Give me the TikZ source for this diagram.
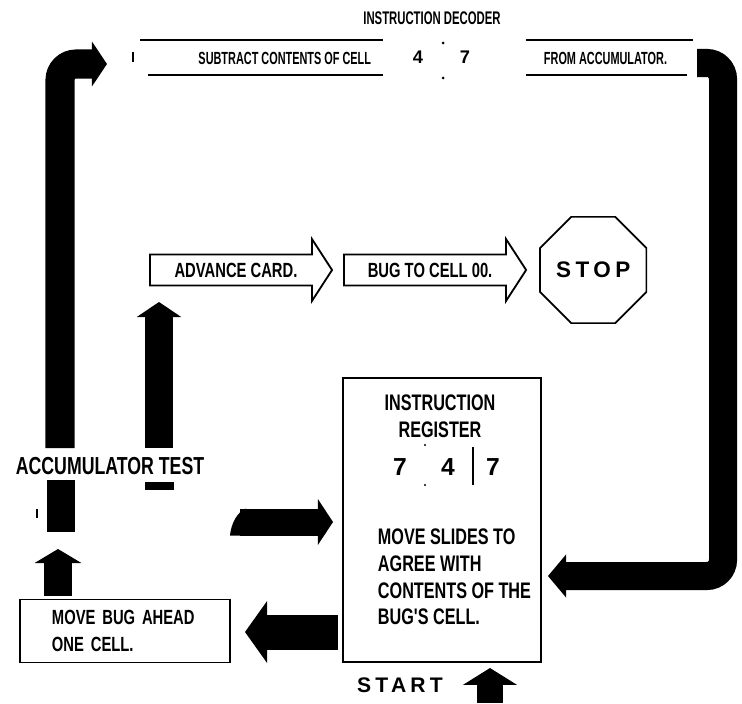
\documentclass[tikz,border=0pt]{standalone}
\usepackage{fontspec}
\setmainfont{Liberation Sans}
\newfontfamily\condfont[FakeStretch=0.72]{Liberation Sans}
\newfontfamily\narrowfont[FakeStretch=0.62]{Liberation Sans}
\newfontfamily\spacedfont[LetterSpace=20]{Liberation Sans}
\usetikzlibrary{shapes.geometric,shapes.arrows,arrows.meta,positioning,calc}

\tikzset{
  fat/.style={line width=#1, draw=black},
  fathead/.style n args={2}{-{Triangle[width=0pt #1,length=0pt #2,line width=0pt]}},
  slide/.style={line width=0.9pt},
  decodertitle/.style={font=\fontsize{13}{13}\narrowfont\bfseries},
  strip/.style={font=\fontsize{12.5}{12.5}\narrowfont\bfseries},
  digit/.style={font=\fontsize{13}{13}\bfseries},
  cardarrow/.style={single arrow, draw, line width=1.3pt, minimum height=4.55cm,
    minimum width=1.55cm, single arrow head extend=0.275cm, single arrow tip angle=114,
    inner sep=2pt, font=\fontsize{14.6}{14.6}\condfont\bfseries},
  stopsign/.style={regular polygon, regular polygon sides=8, draw, line width=1.2pt,
    minimum size=2.875cm, inner sep=0pt, font=\fontsize{16}{16}\spacedfont\bfseries},
  regbox/.style={draw, line width=1.4pt, minimum width=4.95cm, minimum height=7.1cm},
  regtext/.style={font=\fontsize{16}{19}\condfont\bfseries},
  regdigit/.style={font=\fontsize{17.5}{17.5}\bfseries},
  bugbox/.style={draw, line width=1.3pt, minimum width=5.25cm, minimum height=1.575cm,
    text width=3.65cm, inner xsep=0.8cm, align=left,
    font=\fontsize{14.6}{19.2}\condfont\bfseries},
  acclabel/.style={font=\fontsize{17.5}{17.5}\condfont\bfseries},
  spaced/.style={font=\fontsize{15}{15}\spacedfont\bfseries}
}

\begin{document}
\begin{tikzpicture}[x=0.025cm,y=-0.025cm]
    \useasboundingbox (0,0) rectangle (742,703);

    % Instruction decoder strip
    \node[decodertitle] (decoder) at (432,18) {INSTRUCTION DECODER};
    \draw[slide] (140,40) -- (383,40) (148,75) -- (383,75);
    \draw[slide] (526,40) -- (693,40) (526,75) -- (687,75);
    \draw[slide] (133,52) -- (133,62);
    \fill (443,43) circle (1.5) (443,78) circle (1.5);
    \node[strip, anchor=east] (subtract) at (376,58) {SUBTRACT CONTENTS OF CELL};
    \node[digit] (celltens) at (418,57) {4};
    \node[digit] (cellones) at (465,57) {7};
    \node[strip, anchor=west] (fromacc) at (539,58) {FROM ACCUMULATOR.};

    % Advance card / stop
    \node[cardarrow] (advance) at (236,270) {ADVANCE CARD.};
    \node[cardarrow, right=0.25cm of advance] (bugzero) {BUG TO CELL 00.};
    \node[stopsign, right=0.3cm of bugzero] (stop) {STOP};

    % Instruction register
    \node[regbox] (register) at (442,520) {};
    \node[regtext, align=center] (regname) at (440,416) {INSTRUCTION\\REGISTER};
    \node[regdigit] (regop) at (400,467) {7};
    \node[regdigit] (regtens) at (448,467) {4};
    \node[regdigit] (regones) at (493,467) {7};
    \draw[line width=1.6pt] (473,447) -- (473,485);
    \fill (425,445) circle (1.2) (425,485) circle (1.2);
    \node[regtext, align=left, anchor=west] (regmove) at (373,577)
        {MOVE SLIDES TO\\AGREE WITH\\CONTENTS OF THE\\BUG'S CELL.};
    \node[spaced] (start) at (400,685) {START};

    % Move bug / accumulator test
    \node[bugbox] (movebug) at (125,631) {MOVE BUG AHEAD\\ONE CELL.};
    \node[acclabel] (acctest) at (110,466) {ACCUMULATOR TEST};

    % Fat arrows
    \coordinate (accup) at (60,448);
    \coordinate (decin) at (107,64);
    \draw[fat=0.725cm, rounded corners=0.4cm, fathead={1.55}{0.52}] (accup) -- (60,64) -- (decin);

    \coordinate (decout) at (697,63);
    \coordinate (regin) at (548,576);
    \draw[fat=0.7cm, rounded corners=0.4cm, fathead={1.55}{0.65}] (decout) -- (723,63) -- (723,576) -- (regin);

    \coordinate (testup) at (159,448);
    \coordinate (advin) at (159,302);
    \draw[fat=0.7cm, fathead={1.6}{0.54}] (testup) -- (advin);
    \fill (145,482) rectangle (174,490);
    \fill (47,480) rectangle (75,532);
    \draw[line width=1pt] (37,509) -- (37,518);

    \coordinate (bugout) at (58,596);
    \coordinate (accin) at (58,549);
    \draw[fat=0.675cm, fathead={1.74}{0.52}] (bugout) -- (accin);

    \coordinate (testout) at (240,522);
    \coordinate (regleft) at (333,522);
    \draw[fat=0.675cm, fathead={1.7}{0.56}] (testout) -- (regleft);
    \fill (246,508.5) .. controls (237,512) and (231,524) .. (230,535.5) -- (246,535.5) -- cycle;

    \coordinate (regout) at (338,632);
    \coordinate (bugin) at (245,632);
    \draw[fat=0.875cm, fathead={1.77}{0.63}] (regout) -- (bugin);

    \coordinate (startfoot) at (490,703);
    \coordinate (startin) at (490,668);
    \draw[fat=0.65cm, fathead={2.08}{0.65}] (startfoot) -- (startin);
\end{tikzpicture}
\end{document}
